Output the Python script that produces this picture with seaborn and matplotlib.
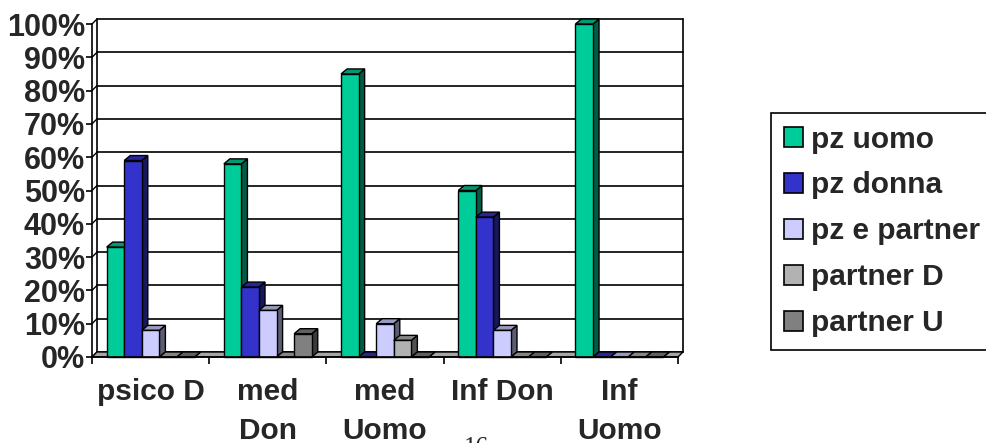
import numpy as np
import pandas as pd
import matplotlib
matplotlib.use("Agg")
import matplotlib.pyplot as plt
from matplotlib.patches import Polygon, Patch
from matplotlib.ticker import PercentFormatter
from matplotlib.colors import to_rgb
import seaborn as sns

# ---- data -----------------------------------------------------------------
categories = ["psico D", "med\nDon", "med\nUomo", "Inf Don", "Inf\nUomo"]
series = ["pz uomo", "pz donna", "pz e partner", "partner D", "partner U"]
pz_uomo = [0.33, 0.58, 0.85, 0.50, 1.00]
pz_donna = [0.59, 0.21, 0.00, 0.42, 0.00]
pz_e_partner = [0.08, 0.14, 0.10, 0.08, 0.00]
partner_d = [0.00, 0.00, 0.05, 0.00, 0.00]
partner_u = [0.00, 0.07, 0.00, 0.00, 0.00]
colors = ["#00CC99", "#3333CC", "#CCCCFF", "#B2B2B2", "#808080"]

values = [pz_uomo, pz_donna, pz_e_partner, partner_d, partner_u]
df = pd.DataFrame({
    "categoria": np.repeat([categories], len(series), axis=0).ravel(),
    "serie": np.repeat(series, len(categories)),
    "valore": np.concatenate(values),
})

# ---- figure ---------------------------------------------------------------
sns.set_theme(style="white")
plt.rcParams["font.family"] = ["Liberation Sans", "DejaVu Sans"]
plt.rcParams["font.weight"] = "bold"

W, H = 987, 443
fig = plt.figure(figsize=(W / 100, H / 100), dpi=100)
fig.patch.set_facecolor("white")

x_left, x_right, y_base, y_top = 92, 678, 357, 24
ax = fig.add_axes([x_left / W, (H - y_base) / H,
                   (x_right - x_left) / W, (y_base - y_top) / H])
ax.set_facecolor("none")

sns.barplot(data=df, x="categoria", y="valore", hue="serie",
            order=categories, hue_order=series, palette=colors,
            width=0.75, edgecolor="black", linewidth=1.0,
            saturation=1, legend=False, ax=ax)

ax.set_xlim(-0.5, len(categories) - 0.5)
ax.set_ylim(0, 1)

# pixel -> data scale for the depth offsets
px_x = (len(categories)) / (x_right - x_left)
px_y = 1.0 / (y_base - y_top)
wall_dx, wall_dy = 5 * px_x, 5 * px_y
bar_dx, bar_dy = 6 * px_x, 5 * px_y

x0, x1 = ax.get_xlim()
yticks = np.linspace(0, 1, 11)

# back wall and side wall gridlines
for yt in yticks:
    ax.plot([x0 + wall_dx, x1 + wall_dx], [yt + wall_dy, yt + wall_dy],
            color="black", lw=1.2, zorder=0.5, clip_on=False)
    ax.plot([x0, x0 + wall_dx], [yt, yt + wall_dy],
            color="black", lw=1.0, zorder=0.5, clip_on=False)
ax.plot([x0 + wall_dx, x0 + wall_dx], [wall_dy, 1 + wall_dy],
        color="black", lw=1.2, zorder=0.5, clip_on=False)
ax.plot([x1 + wall_dx, x1 + wall_dx], [wall_dy, 1 + wall_dy],
        color="black", lw=1.2, zorder=0.5, clip_on=False)

# floor
floor = Polygon([(x0, 0), (x1, 0), (x1 + wall_dx, wall_dy), (x0 + wall_dx, wall_dy)],
                closed=True, facecolor="#A6A6A6", edgecolor="black", lw=1.0,
                zorder=0.8, clip_on=False)
ax.add_patch(floor)


def shade(c, f):
    r, g, b = to_rgb(c)
    return (r * f, g * f, b * f)


# give every bar its side and top faces
bars = [p for p in ax.patches if p is not floor]
n_cat = len(categories)
for i, p in enumerate(bars):
    s_idx = i // n_cat
    base = colors[s_idx]
    bx, bw, bh = p.get_x(), p.get_width(), p.get_height()
    z = 2 + bx  # bars further right sit in front of the side faces on their left
    side = Polygon([(bx + bw, 0), (bx + bw + bar_dx, bar_dy),
                    (bx + bw + bar_dx, bh + bar_dy), (bx + bw, bh)],
                   closed=True, facecolor=shade(base, 0.45), edgecolor="black",
                   lw=1.0, zorder=z, clip_on=False)
    top = Polygon([(bx, bh), (bx + bar_dx, bh + bar_dy),
                   (bx + bw + bar_dx, bh + bar_dy), (bx + bw, bh)],
                  closed=True, facecolor=shade(base, 0.75), edgecolor="black",
                  lw=1.0, zorder=z, clip_on=False)
    ax.add_patch(side)
    ax.add_patch(top)
    p.set_zorder(z + 0.01)
    p.set_clip_on(False)

# axes and ticks
for sp in ["top", "right"]:
    ax.spines[sp].set_visible(False)
for sp in ["left", "bottom"]:
    ax.spines[sp].set_color("black")
    ax.spines[sp].set_linewidth(1.2)
    ax.spines[sp].set_zorder(10)

ax.set_yticks(yticks)
ax.yaxis.set_major_formatter(PercentFormatter(1.0, decimals=0))
ax.set_xticks(range(n_cat))
ax.set_xticklabels(categories, fontsize=21.5, fontweight="bold", linespacing=1.5)
ax.tick_params(axis="x", length=0, pad=15)
ax.tick_params(axis="y", length=4, width=1.2, direction="out", pad=1,
               labelsize=22, left=True, color="black")
for lab in ax.get_yticklabels():
    lab.set_fontweight("bold")
ax.set_xticks(np.arange(-0.5, n_cat, 1.0), minor=True)
ax.tick_params(axis="x", which="minor", length=5, width=1.2,
               direction="out", bottom=True, color="black")
ax.set_xlabel("")
ax.set_ylabel("")

# legend
handles = [Patch(facecolor=c, edgecolor="black", lw=1.2) for c in colors]
leg = fig.legend(handles, series, loc="upper left",
                 bbox_to_anchor=(771 / W, 1 - 113 / H),
                 bbox_transform=fig.transFigure, borderaxespad=0,
                 fancybox=False, framealpha=1, edgecolor="black",
                 prop={"weight": "bold", "size": 21.5},
                 handlelength=0.64, handleheight=0.64, handletextpad=0.28,
                 labelspacing=0.6, borderpad=0.42)
leg.get_frame().set_linewidth(1.2)

# page number at the bottom edge
fig.text(476 / W, 1 - 437 / H, "16", ha="center", va="top",
         fontsize=18, family=["Liberation Serif", "DejaVu Serif"],
         fontweight="normal")

fig.savefig("out.png", dpi=100, facecolor="white")
